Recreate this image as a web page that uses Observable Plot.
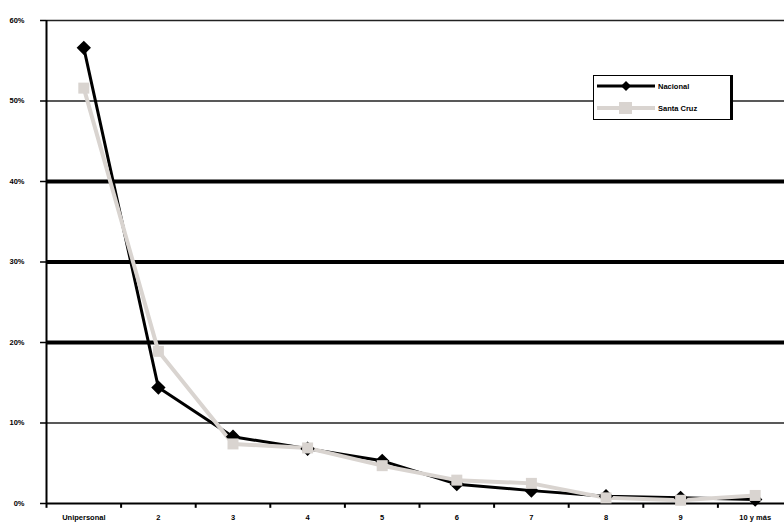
<!DOCTYPE html>
<html><head><meta charset="utf-8">
<script src="https://cdn.jsdelivr.net/npm/d3@7"></script>
<script src="https://cdn.jsdelivr.net/npm/@observablehq/plot@0.6"></script>
<style>
body{margin:0;background:#fff;font-family:"Liberation Sans",Arial,sans-serif;}
#wrap{position:relative;width:784px;height:528px;overflow:hidden;}
#legend{position:absolute;left:593px;top:75px;width:140px;height:45px;background:#fff;border:1.5px solid #000;border-right:3px solid #000;box-sizing:border-box;font-size:7.5px;font-weight:bold;}
#legend .row{position:absolute;left:3px;display:flex;align-items:center;}
#legend span{margin-left:3px;}
</style></head>
<body><div id="wrap"><div id="legend"></div></div>
<script>
const categories = ["Unipersonal","2","3","4","5","6","7","8","9","10 y más"];
const nacional   = [56.6, 14.4, 8.3, 6.8, 5.3, 2.4, 1.6, 0.9, 0.7, 0.5];
const santaCruz  = [51.6, 18.9, 7.4, 6.9, 4.7, 2.9, 2.5, 0.7, 0.4, 1.0];
const yTicks = [0,10,20,30,40,50,60];
const thinGrid = [10,50,60];
const thickGrid = [20,30,40];
const seriesNames = ["Nacional","Santa Cruz"];

const rows = [];
categories.forEach((c,i)=>{
  rows.push({i, cat:c, serie:seriesNames[0], v:nacional[i]});
  rows.push({i, cat:c, serie:seriesNames[1], v:santaCruz[i]});
});
const nac = rows.filter(d=>d.serie===seriesNames[0]);
const sc = rows.filter(d=>d.serie===seriesNames[1]);
const gray = "#d9d4d0";

const chart = Plot.plot({
  width:784, height:528,
  marginLeft:46, marginRight:-8, marginTop:20, marginBottom:25,
  style:{fontFamily:"Liberation Sans, Arial, sans-serif", fontSize:"7.5px", fontWeight:"bold", background:"#fff"},
  x:{type:"linear", domain:[0,categories.length], axis:null},
  y:{type:"linear", domain:[0,60], axis:null},
  marks:[
    Plot.ruleY(thinGrid,{y:d=>d, stroke:"#222", strokeWidth:1.5, x1:0, x2:categories.length}),
    Plot.ruleY(thickGrid,{y:d=>d, stroke:"#000", strokeWidth:4, x1:0, x2:categories.length}),
    Plot.ruleY(yTicks,{y:d=>d, stroke:"#000", strokeWidth:1.5, x1:-0.08, x2:0}),
    Plot.ruleY([0],{y:d=>d, stroke:"#000", strokeWidth:2, x1:0, x2:categories.length}),
    Plot.ruleX([0],{x:d=>d, stroke:"#000", strokeWidth:2, y1:0, y2:60}),
    Plot.ruleX(d3.range(categories.length+1),{x:d=>d, y1:0, y2:-0.6, stroke:"#000", strokeWidth:2}),
    Plot.text(yTicks,{x:0, y:d=>d, text:d=>d+"%", textAnchor:"end", dx:-22, fill:"#000"}),
    Plot.text(categories,{x:(d,i)=>i+0.5, y:0, text:d=>d, dy:14, fill:"#000"}),
    Plot.line(nac,{x:d=>d.i+0.5, y:"v", stroke:"#000", strokeWidth:3}),
    Plot.line(sc,{x:d=>d.i+0.5, y:"v", stroke:gray, strokeWidth:4}),
    Plot.dot(nac,{x:d=>d.i+0.5, y:"v", symbol:"diamond2", r:5.5, fill:"#000", stroke:"#000"}),
    Plot.dot(sc,{x:d=>d.i+0.5, y:"v", symbol:"square2", r:7, fill:gray, stroke:"none"})
  ]
});
const wrap = document.getElementById("wrap");
chart.style.position="absolute"; chart.style.left="0"; chart.style.top="0";
wrap.insertBefore(chart, wrap.firstChild);

const legend = document.getElementById("legend");
legend.innerHTML =
 `<div class="row" style="top:4px"><svg width="58" height="12"><line x1="0" y1="6" x2="58" y2="6" stroke="#000" stroke-width="3"/><path d="M29,1 L34,6 L29,11 L24,6Z" fill="#000"/></svg><span>${seriesNames[0]}</span></div>
  <div class="row" style="top:25px"><svg width="58" height="14"><line x1="0" y1="7" x2="58" y2="7" stroke="${gray}" stroke-width="4"/><rect x="22" y="1" width="13" height="12" fill="${gray}"/></svg><span>${seriesNames[1]}</span></div>`;
</script></body></html>
